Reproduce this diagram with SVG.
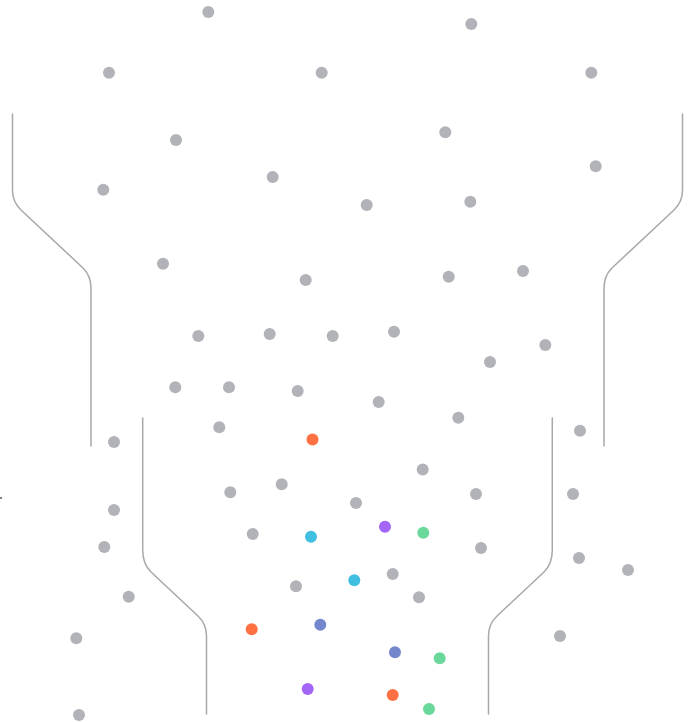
<svg xmlns="http://www.w3.org/2000/svg" width="694" height="722" viewBox="0 0 694 722">
<style>
.wall{fill:none;stroke:#a6a8ac;stroke-width:1.5;stroke-linecap:round;stroke-linejoin:round}
.g{fill:#b1b3b8}
.o{fill:#ff7142}
.p{fill:#a466f6}
.gr{fill:#6bd89b}
.c{fill:#40bfe0}
.b{fill:#7487cc}
</style>
<rect width="694" height="722" fill="#ffffff"/>
<g id="walls">
<path class="wall" d="M12.5,114 V190 Q12.5,202 21,210 L83,268 Q91,276 91,288 V446"/>
<path class="wall" d="M682.5,114 V190 Q682.5,202 674,210 L612,268 Q604,276 604,288 V446"/>
<path class="wall" d="M142.7,418 V550 Q142.7,564 151,572 L198,616 Q206.5,624 206.5,636 V714"/>
<path class="wall" d="M552.3,418 V550 Q552.3,564 544,572 L497,616 Q488.5,624 488.5,636 V714"/>
</g>
<g id="particles">
<circle class="g" cx="208.3" cy="12" r="6"/>
<circle class="g" cx="471.3" cy="24" r="6"/>
<circle class="g" cx="109" cy="72.7" r="6"/>
<circle class="g" cx="321.7" cy="72.7" r="6"/>
<circle class="g" cx="591.3" cy="72.7" r="6"/>
<circle class="g" cx="176" cy="140" r="6"/>
<circle class="g" cx="445.3" cy="132.3" r="6"/>
<circle class="g" cx="103.3" cy="189.7" r="6"/>
<circle class="g" cx="272.7" cy="177" r="6"/>
<circle class="g" cx="366.7" cy="205" r="6"/>
<circle class="g" cx="470.3" cy="201.7" r="6"/>
<circle class="g" cx="595.7" cy="166.3" r="6"/>
<circle class="g" cx="163" cy="263.7" r="6"/>
<circle class="g" cx="305.7" cy="280" r="6"/>
<circle class="g" cx="448.7" cy="276.7" r="6"/>
<circle class="g" cx="523" cy="271" r="6"/>
<circle class="g" cx="198.3" cy="336" r="6"/>
<circle class="g" cx="269.7" cy="334" r="6"/>
<circle class="g" cx="332.7" cy="336" r="6"/>
<circle class="g" cx="394" cy="331.7" r="6"/>
<circle class="g" cx="545.3" cy="345" r="6"/>
<circle class="g" cx="490" cy="362" r="6"/>
<circle class="g" cx="175.3" cy="387.3" r="6"/>
<circle class="g" cx="229" cy="387.3" r="6"/>
<circle class="g" cx="297.7" cy="391" r="6"/>
<circle class="g" cx="378.7" cy="402" r="6"/>
<circle class="g" cx="458.3" cy="417.7" r="6"/>
<circle class="g" cx="219.3" cy="427.3" r="6"/>
<circle class="g" cx="114" cy="442" r="6"/>
<circle class="g" cx="580" cy="430.7" r="6"/>
<circle class="g" cx="422.7" cy="469.5" r="6"/>
<circle class="g" cx="230.3" cy="492.3" r="6"/>
<circle class="g" cx="281.7" cy="484.3" r="6"/>
<circle class="g" cx="356" cy="503" r="6"/>
<circle class="g" cx="476" cy="494" r="6"/>
<circle class="g" cx="573" cy="494" r="6"/>
<circle class="g" cx="114" cy="510" r="6"/>
<circle class="g" cx="104.3" cy="547" r="6"/>
<circle class="g" cx="252.7" cy="534" r="6"/>
<circle class="g" cx="481" cy="548" r="6"/>
<circle class="g" cx="579" cy="558" r="6"/>
<circle class="g" cx="628" cy="570" r="6"/>
<circle class="g" cx="392.7" cy="574" r="6"/>
<circle class="g" cx="296" cy="586.3" r="6"/>
<circle class="g" cx="128.7" cy="596.7" r="6"/>
<circle class="g" cx="419" cy="597.3" r="6"/>
<circle class="g" cx="560" cy="636" r="6"/>
<circle class="g" cx="76.3" cy="638.3" r="6"/>
<circle class="g" cx="79" cy="715" r="6"/>
<circle class="o" cx="312.5" cy="439.5" r="6"/>
<circle class="p" cx="385" cy="526.7" r="6"/>
<circle class="gr" cx="423.3" cy="532.7" r="6"/>
<circle class="c" cx="311" cy="536.7" r="6"/>
<circle class="c" cx="354.3" cy="580.3" r="6"/>
<circle class="b" cx="320.3" cy="624.7" r="6"/>
<circle class="o" cx="251.7" cy="629.3" r="6"/>
<circle class="b" cx="395" cy="652.3" r="6"/>
<circle class="gr" cx="439.7" cy="658.3" r="6"/>
<circle class="p" cx="307.7" cy="689" r="6"/>
<circle class="o" cx="392.7" cy="695" r="6"/>
<circle class="gr" cx="429" cy="709" r="6"/>
<rect x="0" y="497" width="2" height="2" fill="#7d8290"/>
</g>
</svg>
